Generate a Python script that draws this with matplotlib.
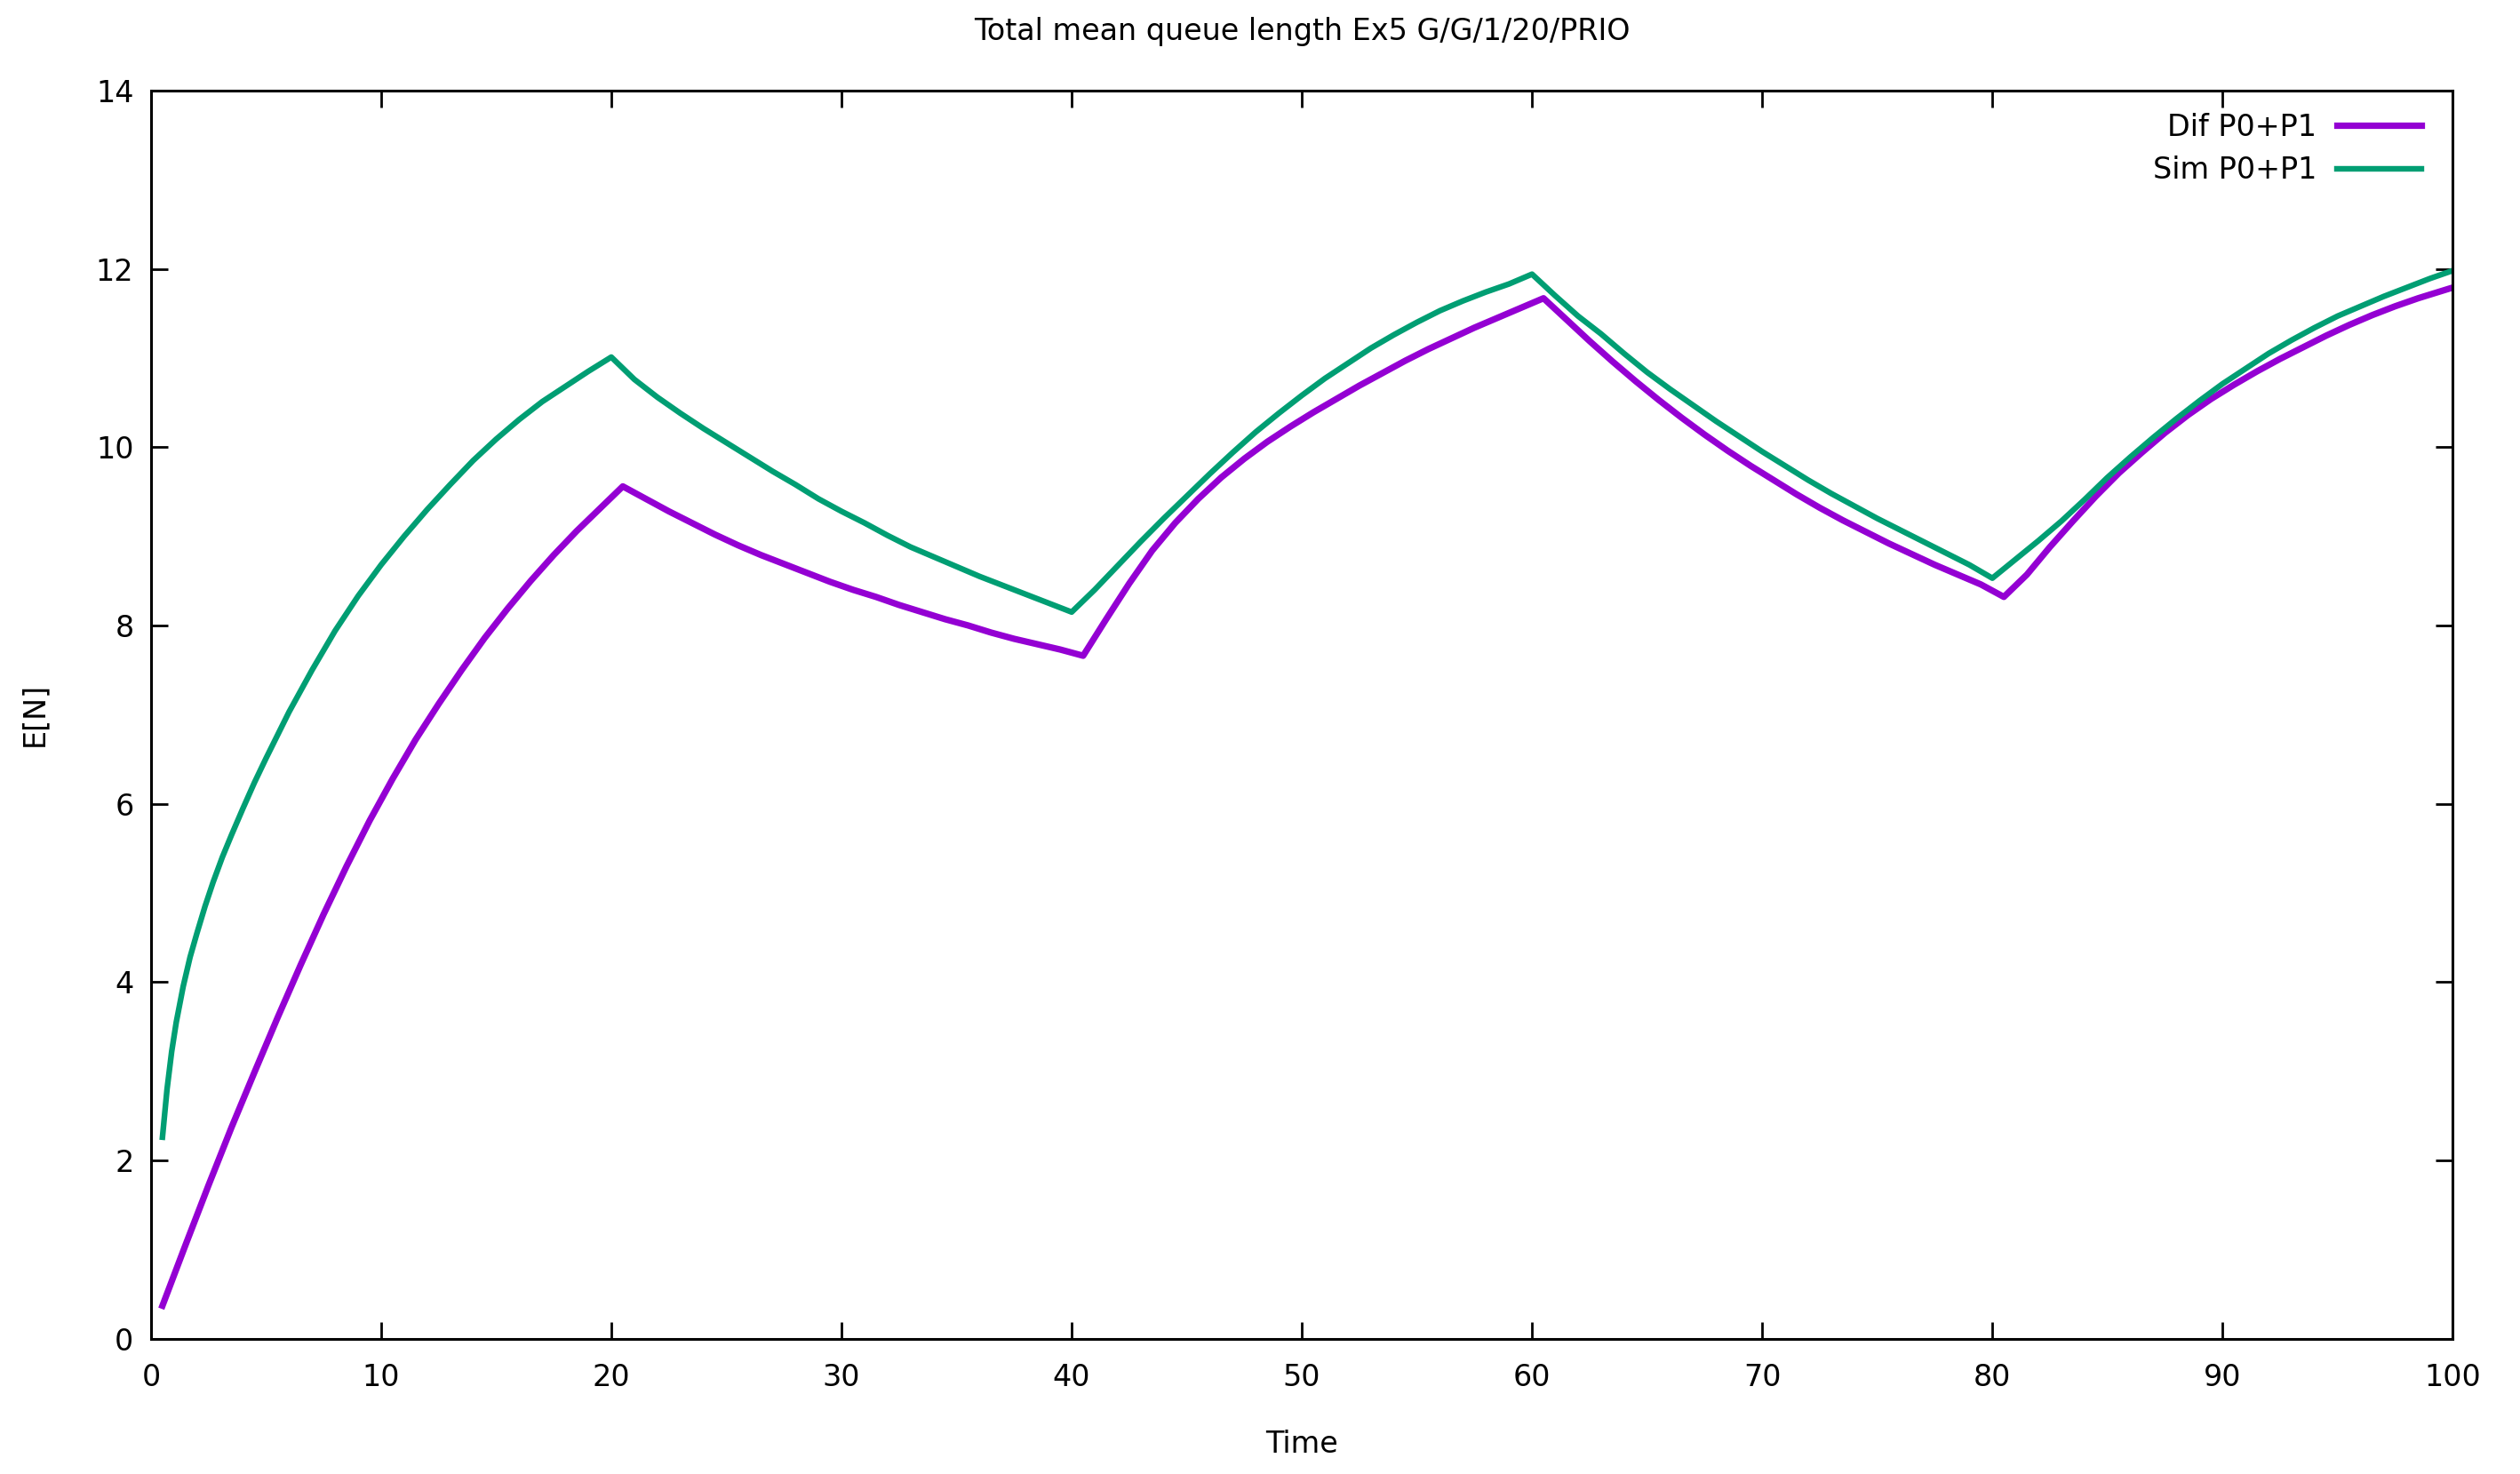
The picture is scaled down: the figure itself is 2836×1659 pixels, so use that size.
import numpy as np
import matplotlib
matplotlib.use("Agg")
import matplotlib.pyplot as plt

# time axis and mean queue length
sim_t = [0.5, 0.7, 0.9, 1.1, 1.4, 1.7, 2, 2.35, 2.7, 3.1, 3.5, 4, 4.5, 5, 6, 7, 8, 9, 10, 11, 12, 13, 14,
         15, 16, 17, 18, 19, 20,
         21, 22, 23, 24, 25, 26, 27, 28, 29, 30, 31, 32, 33, 34, 35, 36, 37, 38, 39, 40,
         41, 42, 43, 44, 45, 46, 47, 48, 49, 50, 51, 52, 53, 54, 55, 56, 57, 58, 59, 60,
         61, 62, 63, 64, 65, 66, 67, 68, 69, 70, 71, 72, 73, 74, 75, 76, 77, 78, 79, 80,
         81, 82, 83, 84, 85, 86, 87, 88, 89, 90, 91, 92, 93, 94, 95, 96, 97, 98, 99, 100]
sim_n = [2.26, 2.80, 3.22, 3.55, 3.95, 4.28, 4.55, 4.85, 5.12, 5.40, 5.65, 5.95, 6.24, 6.51,
         7.03, 7.50, 7.94, 8.33, 8.68,
         9.00, 9.30, 9.58, 9.85, 10.09, 10.31, 10.51, 10.68, 10.85, 11.01,
         10.76, 10.56, 10.38, 10.21, 10.05, 9.89, 9.73, 9.58, 9.42, 9.28,
         9.15, 9.01, 8.88, 8.77, 8.66, 8.55, 8.45, 8.35, 8.25, 8.15,
         8.40, 8.67, 8.94, 9.20, 9.45, 9.70, 9.94, 10.17, 10.38, 10.58,
         10.77, 10.94, 11.11, 11.26, 11.40, 11.53, 11.64, 11.74, 11.83, 11.94,
         11.70, 11.47, 11.27, 11.05, 10.84, 10.65, 10.47, 10.29, 10.12, 9.95,
         9.79, 9.63, 9.48, 9.34, 9.20, 9.07, 8.94, 8.81, 8.68, 8.53,
         8.74, 8.95, 9.17, 9.41, 9.66, 9.89, 10.11, 10.32, 10.52, 10.71,
         10.88, 11.05, 11.20, 11.34, 11.47, 11.58, 11.69, 11.79, 11.89, 11.98]

dif_t = [0.5, 1.5, 2.5, 3.5, 4.5, 5.5, 6.5, 7.5, 8.5, 9.5, 10.5, 11.5, 12.5, 13.5, 14.5,
         15.5, 16.5, 17.5, 18.5, 19.5, 20.5, 21.5, 22.5, 23.5, 24.5, 25.5, 26.5, 27.5,
         28.5, 29.5, 30.5, 31.5, 32.5, 33.5, 34.5, 35.5, 36.5, 37.5, 38.5, 39.5, 40.5,
         41.5, 42.5, 43.5, 44.5, 45.5, 46.5, 47.5, 48.5, 49.5, 50.5, 51.5, 52.5, 53.5,
         54.5, 55.5, 56.5, 57.5, 58.5, 59.5, 60.5, 61.5, 62.5, 63.5, 64.5, 65.5, 66.5,
         67.5, 68.5, 69.5, 70.5, 71.5, 72.5, 73.5, 74.5, 75.5, 76.5, 77.5, 78.5, 79.5,
         80.5, 81.5, 82.5, 83.5, 84.5, 85.5, 86.5, 87.5, 88.5, 89.5, 90.5, 91.5, 92.5,
         93.5, 94.5, 95.5, 96.5, 97.5, 98.5, 99.5, 100.5]
dif_n = [0.37, 1.05, 1.72, 2.37, 2.99, 3.60, 4.19, 4.76, 5.30, 5.81, 6.28, 6.72, 7.12,
         7.50, 7.86, 8.19, 8.50, 8.79, 9.06, 9.31, 9.56,
         9.42, 9.28, 9.15, 9.02, 8.90, 8.79, 8.69, 8.59, 8.49, 8.40,
         8.32, 8.23, 8.15, 8.07, 8.00, 7.92, 7.85, 7.79, 7.73, 7.66,
         8.07, 8.47, 8.84, 9.15, 9.42, 9.66, 9.87, 10.06, 10.23, 10.39,
         10.54, 10.69, 10.83, 10.97, 11.10, 11.22, 11.34, 11.45, 11.56, 11.67,
         11.43, 11.19, 10.96, 10.74, 10.53, 10.33, 10.14, 9.96, 9.79, 9.63,
         9.47, 9.32, 9.18, 9.05, 8.92, 8.80, 8.68, 8.57, 8.46, 8.32,
         8.57, 8.88, 9.17, 9.45, 9.71, 9.94, 10.16, 10.36, 10.54, 10.70,
         10.85, 10.99, 11.12, 11.25, 11.37, 11.48, 11.58, 11.67, 11.75, 11.83]

x_ticks = [0, 10, 20, 30, 40, 50, 60, 70, 80, 90, 100]
y_ticks = [0, 2, 4, 6, 8, 10, 12, 14]

plt.rcParams['font.family'] = ['DejaVu Sans']
fs = 24

fig = plt.figure(figsize=(28.36, 16.59), dpi=100)
ax = fig.add_axes([0.0599, 0.0918, 0.9733 - 0.0599, 0.9386 - 0.0918])

ax.plot(dif_t, dif_n, color='#9400D3', lw=5.2, label='Dif P0+P1')
ax.plot(sim_t, sim_n, color='#009E73', lw=4.6, label='Sim P0+P1')

ax.set_xlim(0, 100)
ax.set_ylim(0, 14)
ax.set_xticks(x_ticks)
ax.set_yticks(y_ticks)
ax.tick_params(direction='in', length=14, width=2, top=True, right=True,
               labelsize=fs)
ax.tick_params(axis='x', pad=20)
ax.tick_params(axis='y', pad=14)
for s in ax.spines.values():
    s.set_linewidth(2.2)

ax.set_title('Total mean queue length Ex5 G/G/1/20/PRIO', fontsize=fs, pad=41)
ax.set_xlabel('Time', fontsize=fs, labelpad=30)
ax.set_ylabel('E[N]', fontsize=fs, labelpad=38)

ax.legend(loc='upper right', frameon=False, fontsize=fs, markerfirst=False,
          handlelength=2.85, handletextpad=0.7, labelspacing=0.46,
          borderaxespad=0.65, bbox_to_anchor=(1.0, 1.007))

fig.savefig('out.png', dpi=100)
